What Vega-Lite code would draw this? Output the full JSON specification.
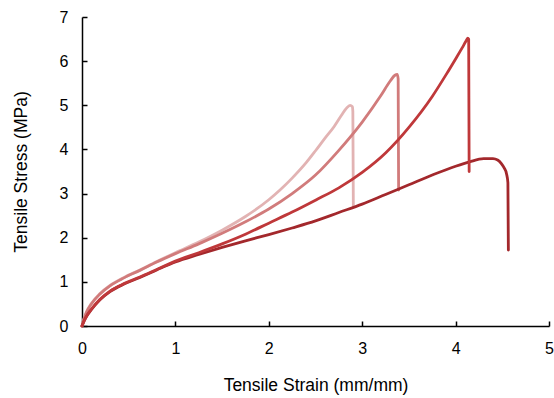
{
  "$schema": "https://vega.github.io/schema/vega-lite/v6.json",
  "width": 467,
  "height": 309,
  "autosize": "none",
  "padding": {"left": 82, "top": 17, "right": 5, "bottom": 72},
  "config": {
    "view": {"stroke": null},
    "font": "Liberation Sans",
    "axis": {
      "grid": false,
      "domainColor": "#000000",
      "domainWidth": 1.5,
      "tickColor": "#000000",
      "tickWidth": 1.5,
      "labelFlush": false,
      "labelFont": "Liberation Sans",
      "labelFontSize": 16,
      "labelColor": "#000000",
      "titleFont": "Liberation Sans",
      "titleFontSize": 17.5,
      "titleFontWeight": "normal",
      "titleColor": "#000000"
    }
  },
  "data": {
    "values": [
      {"s": "1", "i": 0, "x": 0, "y": 0},
      {"s": "1", "i": 1, "x": 0.01, "y": 0.09},
      {"s": "1", "i": 2, "x": 0.025, "y": 0.19},
      {"s": "1", "i": 3, "x": 0.05, "y": 0.33},
      {"s": "1", "i": 4, "x": 0.1, "y": 0.51},
      {"s": "1", "i": 5, "x": 0.19, "y": 0.73},
      {"s": "1", "i": 6, "x": 0.3, "y": 0.92},
      {"s": "1", "i": 7, "x": 0.45, "y": 1.1},
      {"s": "1", "i": 8, "x": 0.62, "y": 1.27},
      {"s": "1", "i": 9, "x": 0.8, "y": 1.46},
      {"s": "1", "i": 10, "x": 1.0, "y": 1.66},
      {"s": "1", "i": 11, "x": 1.25, "y": 1.9},
      {"s": "1", "i": 12, "x": 1.5, "y": 2.17},
      {"s": "1", "i": 13, "x": 1.75, "y": 2.48},
      {"s": "1", "i": 14, "x": 2.0, "y": 2.86},
      {"s": "1", "i": 15, "x": 2.12, "y": 3.08},
      {"s": "1", "i": 16, "x": 2.25, "y": 3.35},
      {"s": "1", "i": 17, "x": 2.4, "y": 3.7},
      {"s": "1", "i": 18, "x": 2.5, "y": 3.97},
      {"s": "1", "i": 19, "x": 2.6, "y": 4.25},
      {"s": "1", "i": 20, "x": 2.7, "y": 4.52},
      {"s": "1", "i": 21, "x": 2.78, "y": 4.78},
      {"s": "1", "i": 22, "x": 2.83, "y": 4.93},
      {"s": "1", "i": 23, "x": 2.87, "y": 5.0},
      {"s": "1", "i": 24, "x": 2.895, "y": 4.97},
      {"s": "1", "i": 25, "x": 2.9, "y": 4.85},
      {"s": "1", "i": 26, "x": 2.905, "y": 2.7},

      {"s": "2", "i": 0, "x": 0, "y": 0},
      {"s": "2", "i": 1, "x": 0.01, "y": 0.08},
      {"s": "2", "i": 2, "x": 0.025, "y": 0.18},
      {"s": "2", "i": 3, "x": 0.05, "y": 0.32},
      {"s": "2", "i": 4, "x": 0.1, "y": 0.5},
      {"s": "2", "i": 5, "x": 0.19, "y": 0.72},
      {"s": "2", "i": 6, "x": 0.3, "y": 0.91},
      {"s": "2", "i": 7, "x": 0.45, "y": 1.09},
      {"s": "2", "i": 8, "x": 0.62, "y": 1.26},
      {"s": "2", "i": 9, "x": 0.8, "y": 1.45},
      {"s": "2", "i": 10, "x": 1.0, "y": 1.64},
      {"s": "2", "i": 11, "x": 1.25, "y": 1.86},
      {"s": "2", "i": 12, "x": 1.5, "y": 2.1},
      {"s": "2", "i": 13, "x": 1.75, "y": 2.36},
      {"s": "2", "i": 14, "x": 2.0, "y": 2.65},
      {"s": "2", "i": 15, "x": 2.25, "y": 3.0},
      {"s": "2", "i": 16, "x": 2.5, "y": 3.42},
      {"s": "2", "i": 17, "x": 2.75, "y": 3.98},
      {"s": "2", "i": 18, "x": 3.0, "y": 4.62},
      {"s": "2", "i": 19, "x": 3.2, "y": 5.22},
      {"s": "2", "i": 20, "x": 3.3, "y": 5.55},
      {"s": "2", "i": 21, "x": 3.35, "y": 5.68},
      {"s": "2", "i": 22, "x": 3.375, "y": 5.7},
      {"s": "2", "i": 23, "x": 3.385, "y": 5.6},
      {"s": "2", "i": 24, "x": 3.39, "y": 3.08},

      {"s": "3", "i": 0, "x": 0, "y": 0},
      {"s": "3", "i": 1, "x": 0.01, "y": 0.05},
      {"s": "3", "i": 2, "x": 0.025, "y": 0.12},
      {"s": "3", "i": 3, "x": 0.05, "y": 0.22},
      {"s": "3", "i": 4, "x": 0.1, "y": 0.37},
      {"s": "3", "i": 5, "x": 0.19, "y": 0.59},
      {"s": "3", "i": 6, "x": 0.3, "y": 0.78},
      {"s": "3", "i": 7, "x": 0.45, "y": 0.95},
      {"s": "3", "i": 8, "x": 0.62, "y": 1.1},
      {"s": "3", "i": 9, "x": 0.8, "y": 1.27},
      {"s": "3", "i": 10, "x": 1.0, "y": 1.45},
      {"s": "3", "i": 11, "x": 1.25, "y": 1.62},
      {"s": "3", "i": 12, "x": 1.5, "y": 1.78},
      {"s": "3", "i": 13, "x": 1.75, "y": 1.93},
      {"s": "3", "i": 14, "x": 2.0, "y": 2.07},
      {"s": "3", "i": 15, "x": 2.25, "y": 2.22},
      {"s": "3", "i": 16, "x": 2.5, "y": 2.38},
      {"s": "3", "i": 17, "x": 2.75, "y": 2.57},
      {"s": "3", "i": 18, "x": 3.0, "y": 2.76},
      {"s": "3", "i": 19, "x": 3.25, "y": 2.98},
      {"s": "3", "i": 20, "x": 3.5, "y": 3.2},
      {"s": "3", "i": 21, "x": 3.75, "y": 3.42},
      {"s": "3", "i": 22, "x": 4.0, "y": 3.62},
      {"s": "3", "i": 23, "x": 4.15, "y": 3.72},
      {"s": "3", "i": 24, "x": 4.3, "y": 3.79},
      {"s": "3", "i": 25, "x": 4.4, "y": 3.79},
      {"s": "3", "i": 26, "x": 4.45, "y": 3.76},
      {"s": "3", "i": 27, "x": 4.49, "y": 3.68},
      {"s": "3", "i": 28, "x": 4.52, "y": 3.58},
      {"s": "3", "i": 29, "x": 4.545, "y": 3.45},
      {"s": "3", "i": 30, "x": 4.56, "y": 3.25},
      {"s": "3", "i": 31, "x": 4.565, "y": 1.72},

      {"s": "4", "i": 0, "x": 0, "y": 0},
      {"s": "4", "i": 1, "x": 0.01, "y": 0.05},
      {"s": "4", "i": 2, "x": 0.025, "y": 0.13},
      {"s": "4", "i": 3, "x": 0.05, "y": 0.23},
      {"s": "4", "i": 4, "x": 0.1, "y": 0.38},
      {"s": "4", "i": 5, "x": 0.19, "y": 0.6},
      {"s": "4", "i": 6, "x": 0.3, "y": 0.79},
      {"s": "4", "i": 7, "x": 0.45, "y": 0.96},
      {"s": "4", "i": 8, "x": 0.62, "y": 1.11},
      {"s": "4", "i": 9, "x": 0.8, "y": 1.28},
      {"s": "4", "i": 10, "x": 1.0, "y": 1.47},
      {"s": "4", "i": 11, "x": 1.25, "y": 1.66},
      {"s": "4", "i": 12, "x": 1.5, "y": 1.86},
      {"s": "4", "i": 13, "x": 1.75, "y": 2.08},
      {"s": "4", "i": 14, "x": 2.0, "y": 2.33},
      {"s": "4", "i": 15, "x": 2.25, "y": 2.58},
      {"s": "4", "i": 16, "x": 2.5, "y": 2.85},
      {"s": "4", "i": 17, "x": 2.75, "y": 3.13},
      {"s": "4", "i": 18, "x": 3.0, "y": 3.48},
      {"s": "4", "i": 19, "x": 3.25, "y": 3.92},
      {"s": "4", "i": 20, "x": 3.5, "y": 4.5},
      {"s": "4", "i": 21, "x": 3.75, "y": 5.2},
      {"s": "4", "i": 22, "x": 3.9, "y": 5.7},
      {"s": "4", "i": 23, "x": 4.0, "y": 6.05},
      {"s": "4", "i": 24, "x": 4.07, "y": 6.3},
      {"s": "4", "i": 25, "x": 4.11, "y": 6.45},
      {"s": "4", "i": 26, "x": 4.13, "y": 6.52},
      {"s": "4", "i": 27, "x": 4.14, "y": 6.5},
      {"s": "4", "i": 28, "x": 4.145, "y": 3.5}
    ]
  },
  "mark": {"type": "line", "strokeWidth": 2.8, "strokeJoin": "round", "strokeCap": "round", "interpolate": "monotone"},
  "encoding": {
    "x": {
      "field": "x", "type": "quantitative",
      "scale": {"domain": [0, 5], "nice": false, "zero": true},
      "axis": {
        "title": "Tensile Strain (mm/mm)",
        "values": [0, 0.5, 1, 1.5, 2, 2.5, 3, 3.5, 4, 4.5, 5],
        "format": "d",
        "labelExpr": "datum.value % 1 === 0 ? datum.label : ''",
        "tickSize": -5,
        "labelPadding": 19,
        "titlePadding": 20
      }
    },
    "y": {
      "field": "y", "type": "quantitative",
      "scale": {"domain": [0, 7], "nice": false},
      "axis": {
        "title": "Tensile Stress (MPa)",
        "values": [0, 0.5, 1, 1.5, 2, 2.5, 3, 3.5, 4, 4.5, 5, 5.5, 6, 6.5, 7],
        "format": "d",
        "labelExpr": "datum.value % 1 === 0 ? datum.label : ''",
        "tickSize": -5,
        "labelPadding": 19,
        "titlePadding": 29
      }
    },
    "color": {
      "field": "s", "type": "nominal",
      "scale": {"domain": ["1", "2", "3", "4"], "range": ["#e2b3b3", "#d17b7b", "#a3282c", "#bf383a"]},
      "legend": null
    },
    "order": {"field": "i", "type": "quantitative"}
  }
}
